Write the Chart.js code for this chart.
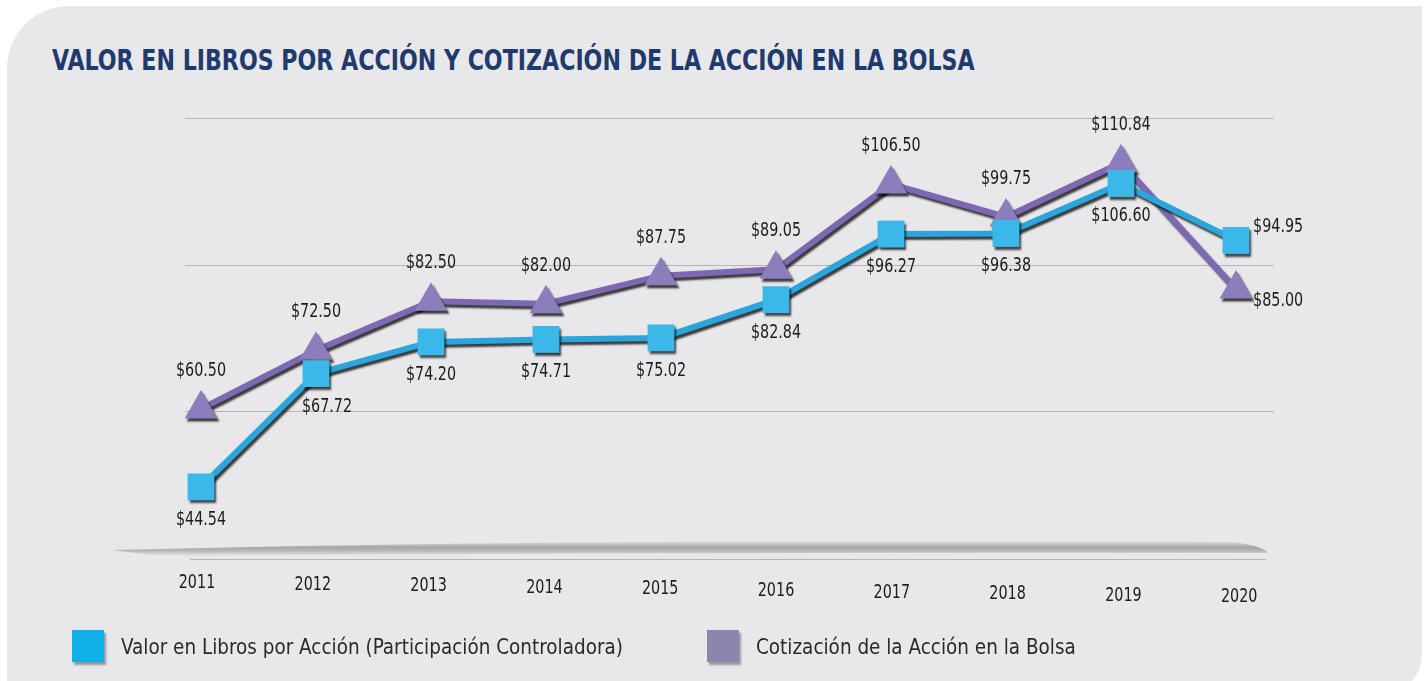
<!DOCTYPE html>
<html>
<head>
<meta charset="utf-8">
<script src="https://cdn.jsdelivr.net/npm/chart.js@4/dist/chart.umd.min.js"></script>
<style>
  html, body { margin: 0; padding: 0; background: #fff; }
  body { width: 1426px; height: 681px; position: relative; overflow: hidden; }
  .panel {
    position: absolute; left: 7px; top: 6px; width: 1415px; height: 690px;
    background: #e8e8ea; border-radius: 62px 0 42px 0;
  }
  h1 {
    position: absolute; left: 52px; top: 43px; margin: 0;
    font-family: "DejaVu Sans Condensed", sans-serif;
    font-weight: bold; font-size: 29px; color: #1f3a6d;
    white-space: nowrap; transform: scaleX(0.848); transform-origin: 0 0;
  }
  .chart-box { position: absolute; left: 0; top: 0; width: 1426px; height: 681px; }
  .legend { position: absolute; top: 630px; left: 0; font-family: "DejaVu Sans Condensed", sans-serif; font-size: 22px; color: #2a2a2a; }
  .legend .item { position: absolute; white-space: nowrap; display: flex; align-items: center; height: 32px; }
  .legend .swatch { width: 32px; height: 32px; box-shadow: 2px 3px 2px rgba(0,0,0,0.35); margin-right: 17px; flex: none; }
  .legend .txt { display: inline-block; transform-origin: 0 50%; }
</style>
</head>
<body>
<div class="panel"></div>
<h1>VALOR EN LIBROS POR ACCIÓN Y COTIZACIÓN DE LA ACCIÓN EN LA BOLSA</h1>
<div class="chart-box"><canvas id="bookValueChart" width="1426" height="681"></canvas></div>
<div class="legend">
  <div class="item" style="left:72px"><span class="swatch" style="background:#0fb0e8"></span><span class="txt" style="transform:scaleX(0.93)">Valor en Libros por Acción (Participación Controladora)</span></div>
  <div class="item" style="left:707px"><span class="swatch" style="background:#8a86ad"></span><span class="txt" style="transform:scaleX(0.93)">Cotización de la Acción en la Bolsa</span></div>
</div>
<script>
// book value vs share price, 2011-2020
const years = ['2011', '2012', '2013', '2014', '2015', '2016', '2017', '2018', '2019', '2020'];
const bookValue = [44.54, 67.72, 74.20, 74.71, 75.02, 82.84, 96.27, 96.38, 106.60, 94.95];
const sharePrice = [60.50, 72.50, 82.50, 82.00, 87.75, 89.05, 106.50, 99.75, 110.84, 85.00];
const gridValues = [60, 90, 120];

const FONT = '"DejaVu Sans Condensed", sans-serif';
const NARROW = 0.84;

function narrowText(ctx, txt, x, y) {
  ctx.save();
  ctx.translate(x, y);
  ctx.scale(NARROW, 1);
  ctx.fillText(txt, 0, 0);
  ctx.restore();
}

// soft gray swoosh, base rule and horizontal rules, drawn behind the series
const backdrop = {
  id: 'backdrop',
  beforeDatasetsDraw(chart) {
    const { ctx, scales: { y } } = chart;
    ctx.save();
    const base = y.getPixelForValue(30);
    const g = ctx.createLinearGradient(0, base - 18, 0, base - 2);
    g.addColorStop(0, 'rgba(150,150,150,0)');
    g.addColorStop(0.45, 'rgba(130,130,130,0.65)');
    g.addColorStop(0.7, 'rgba(140,140,140,0.5)');
    g.addColorStop(1, 'rgba(150,150,150,0)');
    ctx.fillStyle = g;
    ctx.beginPath();
    ctx.moveTo(112, base - 8);
    ctx.quadraticCurveTo(600, base - 20, 1230, base - 16);
    ctx.quadraticCurveTo(1262, base - 13, 1268, base - 5);
    ctx.quadraticCurveTo(700, base - 6, 160, base - 2);
    ctx.closePath();
    ctx.fill();

    ctx.strokeStyle = 'rgba(175,165,165,0.8)';
    ctx.lineWidth = 1;
    ctx.beginPath();
    ctx.moveTo(190, Math.round(base) + 1.5);
    ctx.lineTo(1266, Math.round(base) + 1.5);
    ctx.stroke();
    gridValues.forEach(v => {
      const py = Math.round(y.getPixelForValue(v)) + 0.5;
      ctx.beginPath();
      ctx.moveTo(185, py);
      ctx.lineTo(1274, py);
      ctx.stroke();
    });
    ctx.restore();
  }
};

// dark drop shadow under lines and markers
const shadow = {
  id: 'shadow',
  beforeDatasetDraw(chart) {
    const ctx = chart.ctx;
    ctx.save();
    ctx.shadowColor = 'rgba(0,0,0,0.75)';
    ctx.shadowOffsetX = 2;
    ctx.shadowOffsetY = 3;
    ctx.shadowBlur = 2;
  },
  afterDatasetDraw(chart) {
    chart.ctx.restore();
  }
};

// value labels (book value below, price above, last point to the right) and year labels
const valueLabels = {
  id: 'valueLabels',
  afterDatasetsDraw(chart) {
    const { ctx, scales: { x, y } } = chart;
    ctx.save();
    ctx.font = '19px ' + FONT;
    ctx.fillStyle = '#1d1d1d';
    ctx.textBaseline = 'middle';
    chart.data.datasets.forEach((ds, di) => {
      const isBook = ds.data === bookValue;
      const meta = chart.getDatasetMeta(di);
      meta.data.forEach((pt, i) => {
        const txt = '$' + ds.data[i].toFixed(2);
        if (i === ds.data.length - 1) {
          ctx.textAlign = 'left';
          narrowText(ctx, txt, pt.x + 17, pt.y + (isBook ? -13 : 12));
        } else {
          ctx.textAlign = 'center';
          narrowText(ctx, txt, pt.x + (i === 1 && isBook ? 11 : 0), pt.y + (isBook ? 33 : -38));
        }
      });
    });
    // year labels, slightly tilted baseline as in the original
    const base = y.getPixelForValue(30);
    ctx.textAlign = 'center';
    years.forEach((yr, i) => {
      narrowText(ctx, yr, x.getPixelForValue(i) + (i - 5) * 0.8, base + 25 + i * 1.6);
    });
    ctx.restore();
  }
};

new Chart(document.getElementById('bookValueChart'), {
  type: 'line',
  data: {
    labels: years,
    datasets: [
      {
        label: 'Cotización de la Acción en la Bolsa',
        data: sharePrice,
        borderColor: '#7f68b3',
        backgroundColor: '#8e7dbd',
        borderWidth: 6,
        pointStyle: 'triangle',
        pointRadius: 19,
        pointBorderWidth: 0,
        tension: 0,
        order: 2
      },
      {
        label: 'Valor en Libros por Acción (Participación Controladora)',
        data: bookValue,
        borderColor: '#2aa6dc',
        backgroundColor: '#3bb7ea',
        borderWidth: 6,
        pointStyle: 'rect',
        pointRadius: 19,
        pointBorderWidth: 0,
        tension: 0,
        order: 1
      }
    ]
  },
  options: {
    responsive: false,
    animation: false,
    layout: { padding: { left: 201, right: 190, top: 118, bottom: 123 } },
    plugins: {
      legend: { display: false },
      tooltip: { enabled: false }
    },
    scales: {
      x: { display: false, offset: false },
      y: { display: false, min: 30, max: 120 }
    }
  },
  plugins: [backdrop, shadow, valueLabels]
});
</script>
</body>
</html>
